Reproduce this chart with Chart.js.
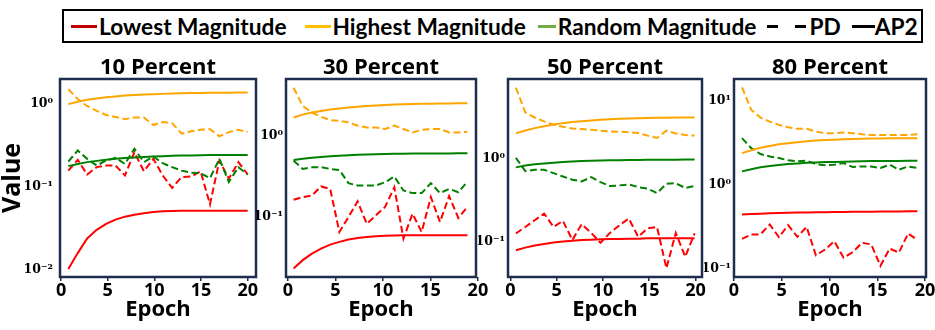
<!DOCTYPE html>
<html>
<head>
<meta charset="utf-8">
<script src="https://cdn.jsdelivr.net/npm/chart.js@4.4.0/dist/chart.umd.min.js"></script>
<style>
  body { margin: 0; background: #fff; width: 935px; height: 330px; overflow: hidden; position: relative; }
  canvas.panel { position: absolute; top: 57px; }
  #legend {
    position: absolute; left: 62px; top: 9px; width: 861px; height: 34px;
    box-sizing: border-box; border: 2px solid #000;
    display: flex; align-items: center; padding-left: 7px;
    font-family: 'Lato', sans-serif; font-weight: 700; font-size: 22.7px; color: #000;
    white-space: nowrap;
  }
  #legend .sw { display: inline-block; width: 26px; height: 3px; margin-right: 2px; }
  #legend .item { display: flex; align-items: center; }
  #legend .dash { display: inline-block; width: 11px; height: 3px; background: #000; }
</style>
</head>
<body>
<div id="legend">
  <span class="item"><i class="sw" style="background:#c00000"></i>Lowest Magnitude</span>
  <span class="item" style="margin-left:18px"><i class="sw" style="background:#ffc000"></i>Highest Magnitude</span>
  <span class="item" style="margin-left:12px"><i class="sw" style="background:#70ad47;width:18px"></i>Random Magnitude</span>
  <span class="item" style="margin-left:11px"><i class="dash"></i><i class="dash" style="margin-left:17px;margin-right:3px"></i>PD</span>
  <span class="item" style="margin-left:11px"><i class="sw" style="background:#000;width:23px;margin-right:0"></i>AP2</span>
</div>
<canvas class="panel" id="p10"></canvas>
<canvas class="panel" id="p30"></canvas>
<canvas class="panel" id="p50"></canvas>
<canvas class="panel" id="p80"></canvas>
<script>
// ---- data ----
const xTickVals = [0, 5, 10, 15, 20];
const yTickText = { '0.01': '10\u207B\u00B2', '0.1': '10\u207B\u00B9', '1': '10\u2070', '10': '10\u00B9' };

// 10 percent
const p10Epoch = [0.78, 1.79, 2.8, 3.82, 4.83, 5.84, 6.85, 7.86, 8.88, 9.89, 10.9, 11.91, 12.92, 13.94, 14.95, 15.96, 16.97, 17.98, 19.0, 20.0];
const p10LowPD = [0.158, 0.213, 0.142, 0.174, 0.182, 0.182, 0.138, 0.263, 0.155, 0.219, 0.138, 0.098, 0.132, 0.134, 0.155, 0.062, 0.209, 0.126, 0.2, 0.142];
const p10LowAP2 = [0.0103, 0.016, 0.024, 0.0305, 0.036, 0.0405, 0.044, 0.0465, 0.0485, 0.05, 0.051, 0.0515, 0.052, 0.052, 0.052, 0.052, 0.052, 0.052, 0.052, 0.052];
const p10HighPD = [1.51, 1.15, 0.95, 0.83, 0.74, 0.70, 0.66, 0.69, 0.69, 0.56, 0.61, 0.59, 0.44, 0.47, 0.49, 0.50, 0.41, 0.46, 0.49, 0.46];
const p10HighAP2 = [1.0, 1.07, 1.13, 1.17, 1.21, 1.24, 1.27, 1.29, 1.31, 1.32, 1.33, 1.34, 1.35, 1.36, 1.36, 1.37, 1.37, 1.37, 1.38, 1.38];
const p10RandPD = [0.203, 0.276, 0.219, 0.182, 0.209, 0.225, 0.19, 0.29, 0.2, 0.233, 0.194, 0.174, 0.158, 0.149, 0.147, 0.128, 0.219, 0.115, 0.174, 0.142];
const p10RandAP2 = [0.179, 0.19, 0.2, 0.207, 0.213, 0.219, 0.224, 0.228, 0.231, 0.234, 0.236, 0.238, 0.24, 0.241, 0.242, 0.243, 0.243, 0.244, 0.244, 0.244];
const p10YTicks = [0.01, 0.1, 1];

// 30 percent
const p30Epoch = [0.6, 1.56, 2.53, 3.49, 4.45, 5.42, 6.38, 7.34, 8.3, 9.27, 10.23, 11.2, 12.16, 13.12, 14.08, 15.05, 16.01, 16.97, 17.94, 18.9];
const p30LowPD = [0.163, 0.176, 0.184, 0.238, 0.222, 0.0655, 0.1, 0.156, 0.0828, 0.105, 0.133, 0.233, 0.0543, 0.11, 0.0655, 0.176, 0.0869, 0.181, 0.0973, 0.133];
const p30LowAP2 = [0.0233, 0.0295, 0.0355, 0.0408, 0.0458, 0.0495, 0.0528, 0.0553, 0.057, 0.058, 0.0588, 0.0592, 0.0595, 0.0596, 0.0597, 0.0597, 0.0597, 0.0597, 0.0597, 0.0597];
const p30HighPD = [3.9, 2.33, 1.93, 1.71, 1.56, 1.53, 1.46, 1.33, 1.26, 1.26, 1.21, 1.33, 1.21, 1.1, 1.18, 1.21, 1.21, 1.1, 1.1, 1.12];
const p30HighAP2 = [1.68, 1.82, 1.93, 2.02, 2.1, 2.17, 2.23, 2.28, 2.32, 2.36, 2.39, 2.42, 2.44, 2.46, 2.47, 2.48, 2.49, 2.5, 2.51, 2.51];
const p30RandPD = [0.494, 0.391, 0.41, 0.41, 0.391, 0.378, 0.261, 0.244, 0.244, 0.244, 0.268, 0.315, 0.212, 0.197, 0.197, 0.261, 0.197, 0.222, 0.202, 0.273];
const p30RandAP2 = [0.504, 0.52, 0.535, 0.548, 0.558, 0.567, 0.575, 0.582, 0.588, 0.593, 0.597, 0.6, 0.602, 0.604, 0.605, 0.606, 0.607, 0.607, 0.608, 0.608];
const p30YTicks = [0.1, 1];

// 50 percent
const p50Epoch = [0.6, 1.62, 2.63, 3.65, 4.66, 5.68, 6.7, 7.71, 8.73, 9.74, 10.76, 11.78, 12.79, 13.81, 14.82, 15.84, 16.86, 17.87, 18.89, 19.9];
const p50LowPD = [0.126, 0.151, 0.182, 0.219, 0.151, 0.179, 0.105, 0.163, 0.128, 0.0973, 0.128, 0.158, 0.191, 0.115, 0.145, 0.151, 0.0479, 0.128, 0.066, 0.126];
const p50LowAP2 = [0.079, 0.085, 0.09, 0.094, 0.098, 0.101, 0.103, 0.105, 0.106, 0.107, 0.108, 0.108, 0.109, 0.109, 0.11, 0.11, 0.11, 0.11, 0.11, 0.11];
const p50HighPD = [7.24, 3.63, 3.16, 2.83, 2.58, 2.44, 2.33, 2.29, 2.25, 2.19, 2.15, 2.13, 2.09, 2.05, 1.91, 1.79, 2.19, 2.03, 1.94, 1.91];
const p50HighAP2 = [2.03, 2.2, 2.35, 2.48, 2.6, 2.7, 2.78, 2.85, 2.91, 2.96, 3.0, 3.04, 3.07, 3.09, 3.11, 3.13, 3.14, 3.15, 3.16, 3.16];
const p50RandPD = [1.03, 0.711, 0.738, 0.738, 0.673, 0.614, 0.56, 0.535, 0.603, 0.525, 0.47, 0.479, 0.492, 0.457, 0.437, 0.387, 0.501, 0.51, 0.445, 0.47];
const p50RandAP2 = [0.79, 0.83, 0.86, 0.88, 0.9, 0.92, 0.93, 0.94, 0.95, 0.955, 0.96, 0.965, 0.97, 0.972, 0.975, 0.977, 0.978, 0.979, 0.98, 0.98];
const p50YTicks = [0.1, 1];

// 80 percent
const p80Epoch = [0.84, 1.81, 2.77, 3.74, 4.7, 5.67, 6.64, 7.6, 8.57, 9.54, 10.5, 11.47, 12.43, 13.4, 14.37, 15.33, 16.3, 17.27, 18.23, 19.2];
const p80LowPD = [0.225, 0.254, 0.254, 0.334, 0.236, 0.328, 0.238, 0.313, 0.143, 0.168, 0.211, 0.134, 0.156, 0.202, 0.193, 0.107, 0.172, 0.154, 0.261, 0.218];
const p80LowAP2 = [0.44, 0.445, 0.45, 0.455, 0.458, 0.46, 0.463, 0.465, 0.467, 0.469, 0.47, 0.472, 0.473, 0.474, 0.475, 0.476, 0.477, 0.478, 0.479, 0.48];
const p80HighPD = [14.5, 7.81, 6.33, 5.67, 5.18, 4.86, 4.64, 4.64, 4.31, 4.12, 4.12, 4.2, 4.12, 4.01, 3.93, 3.93, 3.93, 3.93, 3.93, 4.01];
const p80HighAP2 = [2.38, 2.58, 2.76, 2.9, 3.03, 3.13, 3.22, 3.3, 3.36, 3.41, 3.45, 3.49, 3.52, 3.54, 3.56, 3.57, 3.58, 3.59, 3.59, 3.59];
const p80RandPD = [3.59, 2.73, 2.32, 2.17, 2.08, 1.95, 1.9, 1.93, 1.76, 1.7, 1.73, 1.81, 1.62, 1.65, 1.65, 1.58, 1.73, 1.51, 1.65, 1.58];
const p80RandAP2 = [1.44, 1.53, 1.61, 1.67, 1.72, 1.76, 1.79, 1.82, 1.84, 1.86, 1.87, 1.88, 1.89, 1.9, 1.91, 1.91, 1.92, 1.92, 1.93, 1.93];
const p80YTicks = [0.1, 1, 10];

// ---- styling / layout ----
const RED = '#ff0000', ORANGE = '#ffa500', GREEN = '#008000', NAVY = '#1f2e4e';
const FONT = "'Open Sans', sans-serif";
const RIGHT_PAD = 16;

const panels = [
  { id: 'p10', title: '10 Percent', frame: [60, 256], yw: 60, ypad: 7, x: [-0.11, 20.89], y: [0.00824, 2.01], yTicks: p10YTicks, ytitle: true,
    epoch: p10Epoch, low: [p10LowPD, p10LowAP2], high: [p10HighPD, p10HighAP2], rand: [p10RandPD, p10RandAP2] },
  { id: 'p30', title: '30 Percent', frame: [286, 476], yw: 30, ypad: 3, x: [-0.2, 19.8], y: [0.0183, 4.99], yTicks: p30YTicks,
    epoch: p30Epoch, low: [p30LowPD, p30LowAP2], high: [p30HighPD, p30HighAP2], rand: [p30RandPD, p30RandAP2] },
  { id: 'p50', title: '50 Percent', frame: [508, 702], yw: 30, ypad: 3, x: [-0.25, 20.7], y: [0.0376, 9.2], yTicks: p50YTicks,
    epoch: p50Epoch, low: [p50LowPD, p50LowAP2], high: [p50HighPD, p50HighAP2], rand: [p50RandPD, p50RandAP2] },
  { id: 'p80', title: '80 Percent', frame: [734, 926], yw: 30, ypad: 3, x: [0, 20.1], y: [0.0787, 18.3], yTicks: p80YTicks,
    epoch: p80Epoch, low: [p80LowPD, p80LowAP2], high: [p80HighPD, p80HighAP2], rand: [p80RandPD, p80RandAP2] },
];

const framePlugin = {
  id: 'frame',
  afterDatasetsDraw(chart) {
    const { ctx, chartArea: a } = chart;
    ctx.save();
    ctx.strokeStyle = NAVY;
    ctx.lineWidth = 2.5;
    ctx.strokeRect(a.left, a.top, a.right - a.left, a.bottom - a.top);
    ctx.restore();
  }
};

function line(xs, ys, color, dashed) {
  return {
    data: xs.map((x, i) => ({ x, y: ys[i] })),
    borderColor: color,
    borderWidth: 2,
    borderDash: dashed ? [7, 3.5] : [],
    pointRadius: 0,
    tension: 0,
    fill: false,
  };
}

function makePanel(p) {
  const canvas = document.getElementById(p.id);
  const left = p.frame[0] - p.yw;
  const width = p.frame[1] + RIGHT_PAD - left;
  canvas.style.left = left + 'px';
  canvas.width = width;
  canvas.height = 273;
  canvas.style.width = width + 'px';
  canvas.style.height = '273px';

  new Chart(canvas, {
    type: 'line',
    data: {
      datasets: [
        line(p.epoch, p.high[1], ORANGE, false),
        line(p.epoch, p.rand[1], GREEN, false),
        line(p.epoch, p.low[1], RED, false),
        line(p.epoch, p.high[0], ORANGE, true),
        line(p.epoch, p.rand[0], GREEN, true),
        line(p.epoch, p.low[0], RED, true),
      ]
    },
    options: {
      responsive: false,
      animation: false,
      devicePixelRatio: 1,
      layout: { padding: { left: 0, right: RIGHT_PAD, top: 0, bottom: 0 } },
      plugins: {
        legend: { display: false },
        tooltip: { enabled: false },
        title: {
          display: true, text: p.title, color: '#000', fullSize: false,
          font: { family: FONT, weight: 'bold', size: 22, lineHeight: 1 },
          padding: { top: 0, bottom: 0 }
        }
      },
      scales: {
        x: {
          type: 'linear', min: p.x[0], max: p.x[1],
          afterBuildTicks: s => { s.ticks = xTickVals.map(v => ({ value: v })); },
          afterFit: s => { s.height = 53; },
          grid: { display: true, drawOnChartArea: false, drawTicks: true, tickLength: 4, color: NAVY, lineWidth: 1.5 },
          border: { display: false },
          ticks: { color: '#000', padding: 1, maxRotation: 0, autoSkip: false,
                   font: { family: FONT, weight: 'bold', size: 18, lineHeight: 1 } },
          title: { display: true, text: 'Epoch', color: '#000',
                   font: { family: FONT, weight: 'bold', size: 22, lineHeight: 1 },
                   padding: { top: 9, bottom: 9 } }
        },
        y: {
          type: 'logarithmic', min: p.y[0], max: p.y[1],
          afterBuildTicks: s => { s.ticks = p.yTicks.map(v => ({ value: v })); },
          afterFit: s => { s.width = p.yw; },
          grid: { display: false, drawTicks: false },
          border: { display: false },
          ticks: { color: '#000', padding: p.ypad, autoSkip: false,
                   callback: (v, i) => yTickText[String(p.yTicks[i])],
                   font: { family: 'DejaVu Serif', weight: 'bold', size: 12.5 } },
          title: { display: !!p.ytitle, text: 'Value', color: '#000',
                   font: { family: FONT, weight: 'bold', size: 25, lineHeight: 1 },
                   padding: { top: 0, bottom: 0 } }
        }
      }
    },
    plugins: [framePlugin]
  });
}

panels.forEach(makePanel);
</script>
</body>
</html>
